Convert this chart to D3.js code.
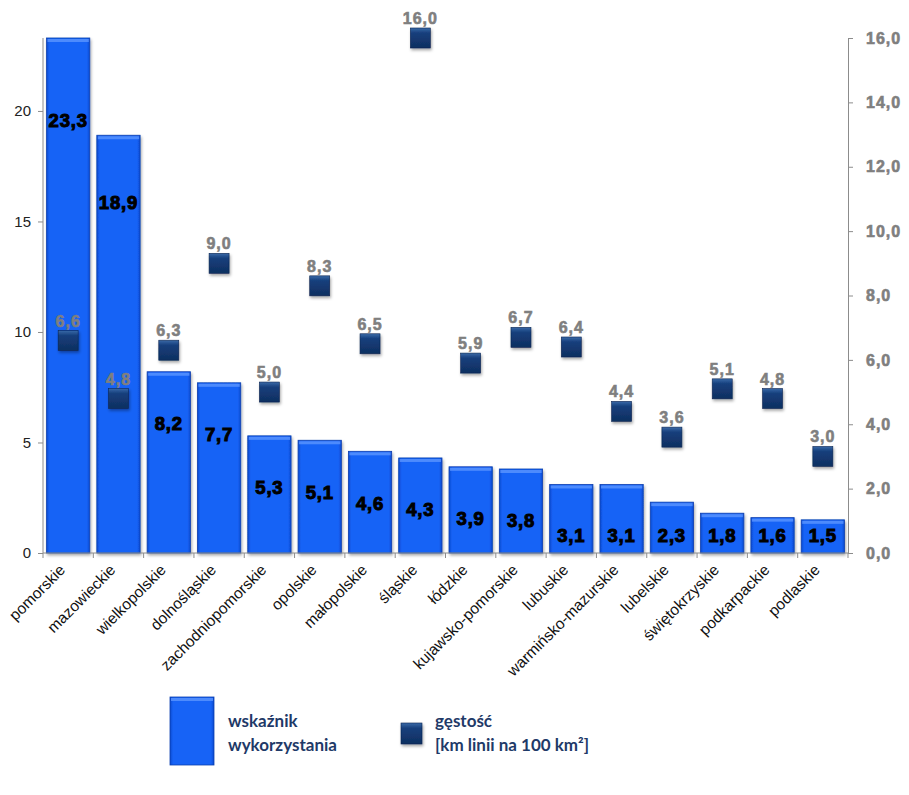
<!DOCTYPE html>
<html><head><meta charset="utf-8">
<script src="https://cdn.jsdelivr.net/npm/d3@7"></script>
<style>body{margin:0;background:#fff}svg{display:block}</style>
</head><body><svg id="c" width="909" height="795"></svg>
<script>
const categories = ["pomorskie","mazowieckie","wielkopolskie","dolnośląskie","zachodniopomorskie","opolskie","małopolskie","śląskie","łódzkie","kujawsko-pomorskie","lubuskie","warmińsko-mazurskie","lubelskie","świętokrzyskie","podkarpackie","podlaskie"];
const wskaznik = [23.3,18.9,8.2,7.7,5.3,5.1,4.6,4.3,3.9,3.8,3.1,3.1,2.3,1.8,1.6,1.5];
const gestosc = [6.6,4.8,6.3,9.0,5.0,8.3,6.5,16.0,5.9,6.7,6.4,4.4,3.6,5.1,4.8,3.0];
const leftTicks = [0,5,10,15,20];
const rightTicks = [0,2,4,6,8,10,12,14,16];
const legendLabels = [["wskaźnik","wykorzystania"],["gęstość","[km linii na 100 km²]"]];

const svg = d3.select("#c");
const L = 43, R = 848, T = 38, B = 553;
const fmt = v => v.toFixed(1).replace(".", ",");
const F = "'Liberation Sans', Arial, sans-serif";

const x = d3.scaleBand().domain(categories).range([L, R]).paddingInner(0.14).paddingOuter(0.07);
const yL = d3.scaleLinear().domain([0, 23.3]).range([B, T]);
const yR = d3.scaleLinear().domain([0, 16]).range([B, T]);

const defs = svg.append("defs");
const bg = defs.append("linearGradient").attr("id","barG").attr("x1",0).attr("x2",1).attr("y1",0).attr("y2",0);
bg.append("stop").attr("offset","0").attr("stop-color","#0b4ad0");
bg.append("stop").attr("offset","0.07").attr("stop-color","#1763f6");
bg.append("stop").attr("offset","0.93").attr("stop-color","#1763f6");
bg.append("stop").attr("offset","1").attr("stop-color","#0b4ad0");
const mg = defs.append("linearGradient").attr("id","mkG").attr("x1",0).attr("x2",0).attr("y1",0).attr("y2",1);
mg.append("stop").attr("offset","0").attr("stop-color","#3a6aa8");
mg.append("stop").attr("offset","0.25").attr("stop-color","#163f7c");
mg.append("stop").attr("offset","1").attr("stop-color","#0f2f60");
const sh = defs.append("filter").attr("id","sh").attr("x","-50%").attr("y","-50%").attr("width","200%").attr("height","200%");
sh.append("feDropShadow").attr("dx",1).attr("dy",2).attr("stdDeviation",1.5).attr("flood-color","#000").attr("flood-opacity",0.35);

// bars
const bw = x.bandwidth();
const bars = svg.append("g");
categories.forEach((c, i) => {
  const v = wskaznik[i];
  const x0 = x(c), y0 = yL(v), h = B - y0;
  bars.append("rect").attr("x", x0).attr("y", y0).attr("width", bw).attr("height", h)
    .attr("fill", "url(#barG)").attr("stroke","#0a3fb0").attr("stroke-width",0.8).attr("filter","url(#sh)");
  bars.append("rect").attr("x", x0+1).attr("y", y0+1).attr("width", bw-2).attr("height", 3)
    .attr("fill", "#5b95ff").attr("opacity",0.8);
});

// axes
const axisColor = "#8c8c8c";
const gl = svg.append("g").attr("transform", `translate(${L},0)`)
  .call(d3.axisLeft(yL).tickValues(leftTicks).tickSize(5).tickSizeOuter(0).tickFormat(d3.format("d")));
gl.select(".domain").attr("stroke", axisColor).attr("d", `M0,${B}V${T}`);
gl.selectAll(".tick line").attr("stroke", axisColor);
gl.selectAll(".tick text").attr("font-family",F).attr("font-size",15).attr("fill","#222").attr("x",-12);

const gr = svg.append("g").attr("transform", `translate(${R},0)`)
  .call(d3.axisRight(yR).tickValues(rightTicks).tickSize(5).tickSizeOuter(0).tickFormat(fmt));
gr.select(".domain").attr("stroke", axisColor);
gr.selectAll(".tick line").attr("stroke", axisColor);
gr.selectAll(".tick text").attr("font-family",F).attr("font-size",16).attr("font-weight","bold")
  .attr("fill","#7f7f7f").attr("stroke","#7f7f7f").attr("stroke-width",0.6).attr("letter-spacing",1).attr("x",18);

// x axis baseline with ticks at band boundaries
const gx = svg.append("g");
gx.append("line").attr("x1",L).attr("x2",R).attr("y1",B).attr("y2",B).attr("stroke",axisColor);
const step = x.step();
const bounds = categories.map((c,i)=> i===0 ? L : x(c) - step*x.paddingInner()/2);
bounds.push(R);
bounds.forEach(b => gx.append("line").attr("x1",b).attr("x2",b).attr("y1",B).attr("y2",B+5).attr("stroke",axisColor));
categories.forEach(c => {
  const cx = x(c) + bw/2 - 2;
  gx.append("text").attr("transform", `translate(${cx},${B+18}) rotate(-45)`)
    .attr("text-anchor","end").attr("font-family",F).attr("font-size",15.5).attr("fill","#111").text(c);
});

// bar value labels
categories.forEach((c, i) => {
  const v = wskaznik[i];
  const y0 = yL(v), h = B - y0;
  const cy = Math.min(y0 + Math.max(52, h*0.16), B - 17);
  svg.append("text").attr("x", x(c) + bw/2).attr("y", cy).attr("dy","0.35em")
    .attr("text-anchor","middle").attr("font-family",F)
    .attr("font-size",18.5).attr("font-weight","bold").attr("fill","#000").attr("stroke","#000").attr("stroke-width",1)
    .attr("letter-spacing",0.8)
    .text(fmt(v));
});

// markers
const ms = 20;
categories.forEach((c, i) => {
  const v = gestosc[i];
  const cx = x(c) + bw/2, cy = yR(v);
  svg.append("rect").attr("x", cx-ms/2).attr("y", cy-ms/2).attr("width", ms).attr("height", ms)
    .attr("fill","url(#mkG)").attr("stroke","#0b2450").attr("stroke-width",0.6).attr("filter","url(#sh)");
  svg.append("text").attr("x", cx).attr("y", cy - 14)
    .attr("text-anchor","middle").attr("font-family",F)
    .attr("font-size",16).attr("font-weight","bold").attr("fill","#7f7f7f").attr("stroke","#7f7f7f").attr("stroke-width",0.6)
    .attr("letter-spacing",1)
    .text(fmt(v));
});

// legend
const lg = svg.append("g");
lg.append("rect").attr("x",170).attr("y",697).attr("width",44).attr("height",68).attr("fill","url(#barG)").attr("stroke","#0a3fb0").attr("stroke-width",0.8);
lg.append("rect").attr("x",171).attr("y",698).attr("width",42).attr("height",3).attr("fill","#5b95ff").attr("opacity",0.8);
lg.append("rect").attr("x",401).attr("y",723).attr("width",21).attr("height",21).attr("fill","url(#mkG)").attr("stroke","#0b2450").attr("stroke-width",0.6).attr("filter","url(#sh)");
const legFont = "Lato, 'Open Sans', sans-serif";
[[228, legendLabels[0]], [435, legendLabels[1]]].forEach(([lx, lines]) => {
  lines.forEach((t, k) => {
    lg.append("text").attr("x", lx).attr("y", 727 + k*24).attr("font-family", legFont).attr("font-size",17)
      .attr("font-weight","bold").attr("fill","#1f3a68").text(t);
  });
});
</script>
</body></html>
